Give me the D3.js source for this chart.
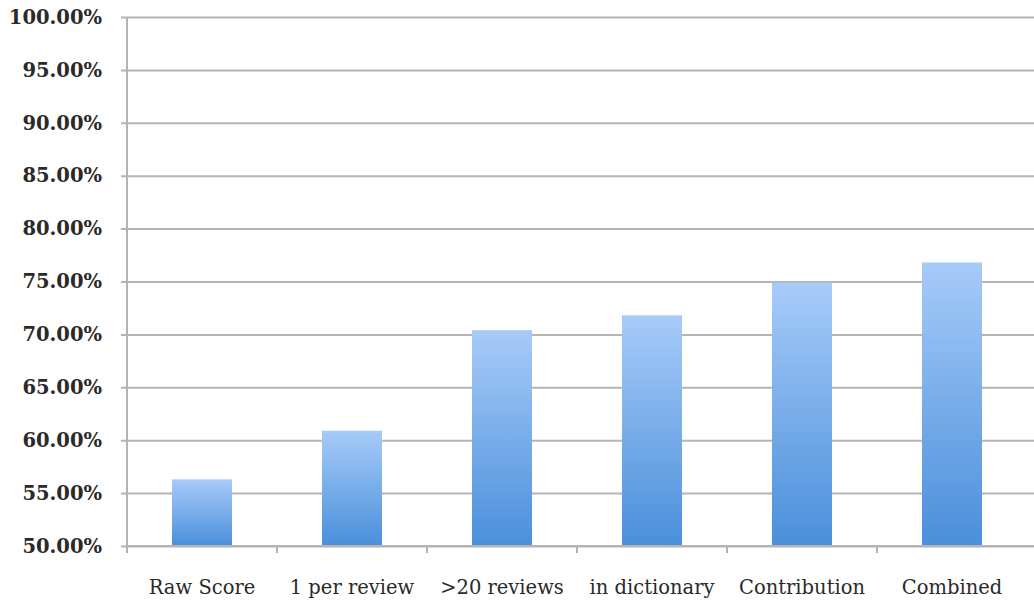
<!DOCTYPE html>
<html>
<head>
<meta charset="utf-8">
<script src="https://cdn.jsdelivr.net/npm/d3@7"></script>
<style>
  body { margin: 0; background: #fff; }
</style>
</head>
<body>
<div id="bar-chart"></div>
<script>
// values
const categories = ["Raw Score", "1 per review", ">20 reviews", "in dictionary", "Contribution", "Combined"];
const accuracy = [0.563, 0.609, 0.704, 0.718, 0.749, 0.768];
const y_ticks = [0.50, 0.55, 0.60, 0.65, 0.70, 0.75, 0.80, 0.85, 0.90, 0.95, 1.00];

const margin = {top: 17, right: 7, bottom: 55, left: 127},
  width = 1034 - margin.left - margin.right,
  height = 601 - margin.top - margin.bottom;

const svg = d3.select("#bar-chart")
  .append("svg")
    .attr("width", 1034)
    .attr("height", 601)
  .append("g")
    .attr("transform", "translate(" + margin.left + "," + margin.top + ")");

// bar fill, light at the top, darker at the bottom
const grad = svg.append("defs").append("linearGradient")
  .attr("id", "bar-fill")
  .attr("x1", 0).attr("y1", 0).attr("x2", 0).attr("y2", 1);
grad.append("stop").attr("offset", "0%").attr("stop-color", "#a7cbf9");
grad.append("stop").attr("offset", "100%").attr("stop-color", "#4a8fdb");

const x_axis = d3.scaleBand()
  .domain(categories)
  .range([0, width])
  .paddingInner(0.6)
  .paddingOuter(0.3);

const y_axis = d3.scaleLinear()
  .domain([0.5, 1.0])
  .range([height, 0]);

// horizontal grid lines with little ticks out to the left
svg.append("g")
  .call(d3.axisLeft(y_axis)
    .tickValues(y_ticks)
    .tickSize(-(width + margin.right))
    .tickPadding(25)
    .tickFormat(d3.format(".2%")))
  .call(g => g.select(".domain").remove())
  .call(g => g.selectAll(".tick line")
    .attr("x1", -6)
    .attr("stroke", "#b4b4b4")
    .attr("stroke-width", 2))
  .call(g => g.selectAll("text")
    .attr("fill", "#2a2a2a")
    .style("font-family", "'DejaVu Serif', serif")
    .style("font-weight", "bold")
    .style("font-size", "19.5px"));

// bars
svg.selectAll(".bar")
  .data(categories)
  .enter()
  .append("rect")
    .attr("class", "bar")
    .attr("x", d => x_axis(d))
    .attr("width", x_axis.bandwidth())
    .attr("y", (d, i) => y_axis(accuracy[i]))
    .attr("height", (d, i) => height - y_axis(accuracy[i]))
    .attr("fill", "url(#bar-fill)");

// y axis line
svg.append("line")
  .attr("x1", 0).attr("x2", 0)
  .attr("y1", 0).attr("y2", height)
  .attr("stroke", "#b4b4b4")
  .attr("stroke-width", 2);

// x axis: line with ticks between categories
const bounds = d3.range(categories.length).map(i => i * width / categories.length);

const xg = svg.append("g")
  .attr("transform", "translate(0," + height + ")");

xg.append("line")
  .attr("x1", 0).attr("x2", width + margin.right)
  .attr("stroke", "#b4b4b4")
  .attr("stroke-width", 2);

xg.selectAll(".xtick")
  .data(bounds)
  .enter()
  .append("line")
    .attr("x1", d => d).attr("x2", d => d)
    .attr("y1", 0).attr("y2", 7)
    .attr("stroke", "#b4b4b4")
    .attr("stroke-width", 2);

xg.selectAll(".xlabel")
  .data(categories)
  .enter()
  .append("text")
    .attr("x", d => x_axis(d) + x_axis.bandwidth() / 2)
    .attr("y", 48)
    .attr("text-anchor", "middle")
    .attr("fill", "#2a2a2a")
    .style("font-family", "'DejaVu Serif', serif")
    .style("font-size", "19.5px")
    .text(d => d);
</script>
</body>
</html>
